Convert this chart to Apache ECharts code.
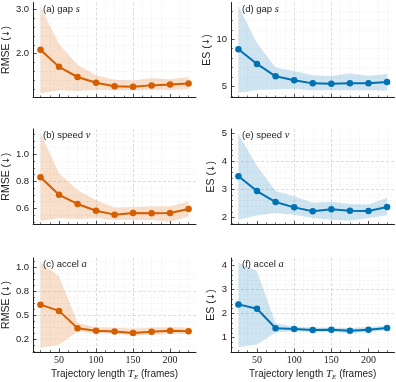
<!DOCTYPE html>
<html>
<head>
<meta charset="utf-8">
<script src="https://cdn.jsdelivr.net/npm/echarts@6/dist/echarts.min.js"></script>
<style>
  html, body { margin: 0; padding: 0; background: #fff; }
  #chart { width: 396px; height: 382px; }
</style>
</head>
<body>
<div id="chart"></div>
<script>
// trajectory lengths on the x axis
const lengths = [25, 50, 75, 100, 125, 150, 175, 200, 225];
const xTicks = [50, 100, 150, 200];

// RMSE, left column
const gapRmse   = [2.09, 1.70, 1.47, 1.34, 1.26, 1.25, 1.28, 1.30, 1.32];
const gapRmseLo = [1.10, 1.17, 1.15, 1.18, 1.17, 1.17, 1.18, 1.18, 1.20];
const gapRmseHi = [3.06, 2.22, 1.75, 1.51, 1.41, 1.39, 1.45, 1.42, 1.47];

const speedRmse   = [0.830, 0.700, 0.632, 0.582, 0.553, 0.565, 0.563, 0.565, 0.595];
const speedRmseLo = [0.506, 0.526, 0.520, 0.526, 0.513, 0.513, 0.513, 0.500, 0.538];
const speedRmseHi = [1.155, 0.860, 0.736, 0.660, 0.605, 0.610, 0.615, 0.615, 0.650];

const accelRmse   = [0.608, 0.543, 0.363, 0.336, 0.329, 0.312, 0.326, 0.336, 0.330];
const accelRmseLo = [0.160, 0.190, 0.326, 0.309, 0.305, 0.285, 0.292, 0.305, 0.299];
const accelRmseHi = [1.047, 0.904, 0.420, 0.373, 0.366, 0.360, 0.366, 0.373, 0.366];

// ES, right column
const gapEs   = [8.94, 7.38, 6.07, 5.64, 5.32, 5.28, 5.32, 5.32, 5.46];
const gapEsLo = [4.33, 4.61, 4.68, 4.75, 4.60, 4.60, 4.60, 4.60, 4.53];
const gapEsHi = [13.54, 9.57, 7.00, 6.63, 6.17, 6.10, 6.38, 6.13, 6.31];

const speedEs   = [3.47, 2.94, 2.55, 2.36, 2.22, 2.29, 2.24, 2.23, 2.37];
const speedEsLo = [1.92, 2.07, 2.16, 2.10, 1.98, 1.92, 1.88, 1.98, 2.07];
const speedEsHi = [4.97, 3.83, 2.94, 2.76, 2.52, 2.56, 2.48, 2.46, 2.70];

const accelEs   = [2.38, 2.20, 1.39, 1.36, 1.32, 1.33, 1.28, 1.33, 1.40];
const accelEsLo = [0.60, 0.71, 1.21, 1.26, 1.22, 1.24, 1.18, 1.22, 1.30];
const accelEsHi = [4.12, 3.77, 1.59, 1.46, 1.42, 1.42, 1.40, 1.44, 1.50];

// y tick values and their printed labels
const gapRmseTicks = [2, 3],                   gapRmseLabels = ['2.0', '3.0'];
const speedRmseTicks = [0.6, 0.8, 1.0],        speedRmseLabels = ['0.6', '0.8', '1.0'];
const accelRmseTicks = [0.25, 0.5, 0.75, 1.0], accelRmseLabels = ['0.2', '0.5', '0.8', '1.0'];
const gapEsTicks = [5, 10],                    gapEsLabels = ['5', '10'];
const speedEsTicks = [2, 3, 4, 5],             speedEsLabels = ['2', '3', '4', '5'];
const accelEsTicks = [1, 2, 3, 4],             accelEsLabels = ['1', '2', '3', '4'];

const ORANGE = '#d55e00', BLUE = '#0072b2';
const INK = '#222';

const panels = [
  { tag: '(a)', word: 'gap',   sym: 's', mean: gapRmse,   lo: gapRmseLo,   hi: gapRmseHi,   color: ORANGE, fill: 'rgba(213,94,0,0.2)',   yName: 'RMSE', col: 0, row: 0, yMin: 1.005, yMax: 3.16,  split: 2, minor: 5, ticks: gapRmseTicks,   labels: gapRmseLabels },
  { tag: '(b)', word: 'speed', sym: 'v', mean: speedRmse, lo: speedRmseLo, hi: speedRmseHi, color: ORANGE, fill: 'rgba(213,94,0,0.2)',   yName: 'RMSE', col: 0, row: 1, yMin: 0.48,  yMax: 1.187, split: 4, minor: 4, ticks: speedRmseTicks, labels: speedRmseLabels },
  { tag: '(c)', word: 'accel', sym: 'a', mean: accelRmse, lo: accelRmseLo, hi: accelRmseHi, color: ORANGE, fill: 'rgba(213,94,0,0.2)',   yName: 'RMSE', col: 0, row: 2, yMin: 0.114, yMax: 1.095, split: 2, minor: 8, ticks: accelRmseTicks, labels: accelRmseLabels },
  { tag: '(d)', word: 'gap',   sym: 's', mean: gapEs,     lo: gapEsLo,     hi: gapEsHi,     color: BLUE,   fill: 'rgba(0,114,178,0.19)', yName: 'ES',   col: 1, row: 0, yMin: 3.82,  yMax: 13.9,  split: 2, minor: 5, ticks: gapEsTicks,     labels: gapEsLabels },
  { tag: '(e)', word: 'speed', sym: 'v', mean: speedEs,   lo: speedEsLo,   hi: speedEsHi,   color: BLUE,   fill: 'rgba(0,114,178,0.19)', yName: 'ES',   col: 1, row: 1, yMin: 1.75,  yMax: 5.15,  split: 3, minor: 5, ticks: speedEsTicks,   labels: speedEsLabels },
  { tag: '(f)', word: 'accel', sym: 'a', mean: accelEs,   lo: accelEsLo,   hi: accelEsHi,   color: BLUE,   fill: 'rgba(0,114,178,0.19)', yName: 'ES',   col: 1, row: 2, yMin: 0.40,  yMax: 4.31,  split: 3, minor: 5, ticks: accelEsTicks,   labels: accelEsLabels }
];

const colLeft = [32, 231], colWidth = [164, 163.5];
const rowTop = [2.5, 129, 258], rowHeight = [95, 95.5, 96];

const gridLine = { color: '#cdcdcd', width: 0.7, type: [3, 2] };
const minorLine = { color: '#ebebeb', width: 0.6, type: [2, 2] };

function labelMap(p) {
  const m = {};
  p.ticks.forEach((t, k) => { m[t] = p.labels[k]; });
  return m;
}

// band between lo and hi, drawn once per panel as a polygon through the axis scales
function bandRenderer(p) {
  return function (params, api) {
    if (params.dataIndex !== 0) return;
    const upper = lengths.map((x, k) => api.coord([x, p.hi[k]]));
    const lower = lengths.map((x, k) => api.coord([x, p.lo[k]])).reverse();
    return {
      type: 'polygon',
      shape: { points: upper.concat(lower) },
      style: { fill: p.fill },
      silent: true
    };
  };
}

const option = {
  animation: false,
  backgroundColor: '#fff',
  title: panels.map(p => ({
    text: `{t|${p.tag} ${p.word} }{m|${p.sym}}`,
    left: colLeft[p.col] + 11,
    top: rowTop[p.row] + 1,
    padding: 0,
    textStyle: {
      fontWeight: 'normal',
      rich: {
        t: { fontFamily: 'Liberation Sans', fontWeight: 'normal', fontSize: 9.5, color: INK },
        m: { fontFamily: 'Liberation Serif', fontStyle: 'italic', fontWeight: 'normal', fontSize: 10.5, color: INK }
      }
    }
  })),
  grid: panels.map(p => ({
    left: colLeft[p.col], top: rowTop[p.row],
    width: colWidth[p.col], height: rowHeight[p.row]
  })),
  xAxis: panels.map((p, i) => ({
    type: 'value', gridIndex: i, min: 15, max: 235, splitNumber: 5,
    axisLine: { show: true, onZero: false, lineStyle: { color: INK, width: 1 } },
    axisTick: { show: true, inside: true, length: 3.5, customValues: xTicks, lineStyle: { color: INK, width: 0.8 } },
    minorTick: { show: true, splitNumber: 4, length: 2, lineStyle: { color: INK, width: 0.6 } },
    axisLabel: { show: p.row === 2, customValues: xTicks, fontFamily: 'Liberation Serif', fontSize: 10, color: INK, margin: 3 },
    splitLine: { show: true, showMinLine: false, showMaxLine: false, lineStyle: gridLine },
    minorSplitLine: { show: true, lineStyle: minorLine },
    name: p.row === 2 ? 'Trajectory length {i|T}{s|E} (frames)' : '',
    nameLocation: 'middle',
    nameGap: 16,
    nameTextStyle: {
      fontFamily: 'Liberation Sans', fontSize: 10, color: INK,
      rich: {
        i: { fontFamily: 'Liberation Serif', fontStyle: 'italic', fontSize: 11, color: INK },
        s: { fontFamily: 'Liberation Serif', fontStyle: 'italic', fontSize: 7, color: INK, padding: [6, 0, 0, 0] }
      }
    }
  })),
  yAxis: panels.map((p, i) => {
    const lm = labelMap(p);
    return {
      type: 'value', gridIndex: i, min: p.yMin, max: p.yMax, splitNumber: p.split,
      axisLine: { show: true, onZero: false, lineStyle: { color: INK, width: 1 } },
      axisTick: { show: true, inside: true, length: 3.5, customValues: p.ticks, lineStyle: { color: INK, width: 0.8 } },
      minorTick: { show: true, splitNumber: p.minor, length: 2, lineStyle: { color: INK, width: 0.6 } },
      axisLabel: {
        customValues: p.ticks, fontFamily: 'Liberation Sans', fontSize: 9.5, color: INK, margin: 4,
        formatter: v => lm[v] !== undefined ? lm[v] : ''
      },
      splitLine: { show: true, showMinLine: false, showMaxLine: false, lineStyle: gridLine },
      minorSplitLine: { show: true, lineStyle: minorLine },
      name: p.yName + ' ({ar|↓})',
      nameLocation: 'middle',
      nameGap: p.col === 0 ? 19 : 14,
      nameTextStyle: {
        fontFamily: 'Liberation Sans', fontSize: 10.5, color: INK,
        rich: { ar: { fontFamily: 'DejaVu Sans', fontSize: 9, color: INK } }
      }
    };
  }),
  series: []
};

panels.forEach((p, i) => {
  option.series.push({
    type: 'custom', xAxisIndex: i, yAxisIndex: i, z: 1, silent: true,
    clip: true,
    renderItem: bandRenderer(p),
    encode: { x: 0, y: [1, 2] },
    data: lengths.map((x, k) => [x, p.lo[k], p.hi[k]])
  });
  option.series.push({
    type: 'line', xAxisIndex: i, yAxisIndex: i, z: 3,
    symbol: 'circle', symbolSize: 6.5,
    itemStyle: { color: p.color },
    lineStyle: { color: p.color, width: 2 },
    data: lengths.map((x, k) => [x, p.mean[k]])
  });
});

const myChart = echarts.init(document.getElementById('chart'));
myChart.setOption(option);
</script>
</body>
</html>
